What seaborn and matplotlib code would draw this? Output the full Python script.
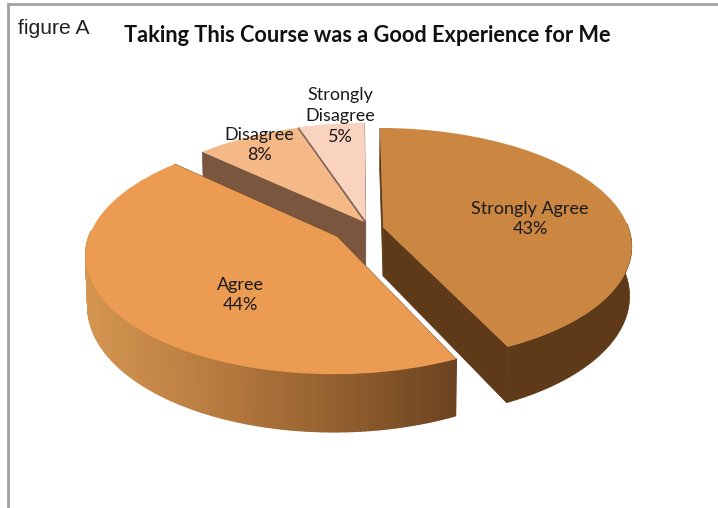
import numpy as np
import matplotlib
matplotlib.use("Agg")
import matplotlib.pyplot as plt
import seaborn as sns
from matplotlib.collections import PolyCollection
from matplotlib.transforms import Transform

# Chart data
categories = ["Strongly Agree", "Agree", "Disagree", "Strongly\nDisagree"]
percents = [43, 44, 8, 5]

# Slice styles
top_colors = ["#CB8742", "#EB9C52", "#F5B887", "#FAD3BF"]
side_colors = ["#5E3A19", "#6B4320", "#7A563F", "#7B6560"]
agree_wall = ["#D49650", "#B87C40", "#94602F", "#6B4320"]
slice_shift = [(0.107, 0.0214), (-0.08, -0.0576), (0.03, 0.07), (0.036, 0.08)]
label_xy = [(530, 219), (240, 295), (259, 145), (340, 116)]
draw_order = [3, 2, 1, 0]

# Camera for the tilted pie, in pixels
X0, Y0 = 357, 230
SX, SY, PERSP, DEPTH = 246, 115, 0.148, 48.5


def project(u, v, z=0.0):
    w = 1 + PERSP * v
    shrink = 1 - 0.008 * z
    return X0 + SX * u * shrink / w, Y0 + (-SY * v + DEPTH * z) / w


class Tilt(Transform):
    input_dims = 2
    output_dims = 2
    is_affine = False

    def transform_non_affine(self, values):
        x, y = project(values[:, 0], values[:, 1])
        return np.column_stack([x, y])


sns.set_theme(style="white")
plt.rcParams["font.family"] = ["Lato", "DejaVu Sans"]

fig = plt.figure(figsize=(7.18, 5.08), dpi=100)
ax = fig.add_axes([0, 0, 1, 1])

wedges, _ = ax.pie(percents, colors=top_colors, startangle=90, counterclock=False,
                   wedgeprops={"linewidth": 0})
ax.set_aspect("auto")
ax.set_xlim(0, 718)
ax.set_ylim(508, 0)
ax.axis("off")

z = 2
for i in draw_order:
    wedge = wedges[i]
    cx, cy = slice_shift[i]
    wedge.set_center((cx, cy))

    # flat faces of the cut
    for theta in (wedge.theta1, wedge.theta2):
        ex = cx + np.cos(np.radians(theta))
        ey = cy + np.sin(np.radians(theta))
        ax.fill(*zip(project(cx, cy), project(ex, ey), project(ex, ey, 1), project(cx, cy, 1)),
                color=side_colors[i], lw=0.5, zorder=z)

    # rim on the side facing the viewer
    angles = np.radians(np.linspace(wedge.theta1, wedge.theta2, 200))
    angles = angles[np.sin(angles) < 0.05]
    if len(angles) > 1:
        ux, uy = cx + np.cos(angles), cy + np.sin(angles)
        xt, yt = project(ux, uy)
        xb, yb = project(ux, uy, 1)
        if i == 1:
            # stepped shading, as the reference has
            ramp = sns.blend_palette(agree_wall, 256)
            pos = (xt[:-1] - xt.min()) / (xt.max() - xt.min())
            cols = [ramp[int(p * 255)] for p in pos]
            quads = [[(xt[k], yt[k]), (xt[k + 1], yt[k + 1]), (xb[k + 1], yb[k + 1]), (xb[k], yb[k])]
                     for k in range(len(angles) - 1)]
            ax.add_collection(PolyCollection(quads, facecolors=cols, edgecolors="face",
                                             linewidths=1.2, zorder=z))
        else:
            ax.fill(np.r_[xt, xb[::-1]], np.r_[yt, yb[::-1]], color=side_colors[i], lw=0.5, zorder=z)

    wedge.set_transform(Tilt() + ax.transData)
    wedge.set_zorder(z + 0.5)
    z += 1

for name, pct, (lx, ly) in zip(categories, percents, label_xy):
    ax.text(lx, ly, f"{name}\n{pct}%", ha="center", va="center", fontsize=13,
            color="#1a1a1a", linespacing=1.38, zorder=20)

ax.text(367, 36, "Taking This Course was a Good Experience for Me", ha="center", va="center",
        fontsize=15.7, fontweight="bold", color="#111111")
ax.text(18, 28, "figure A", ha="left", va="center", fontsize=15.2,
        family=["Liberation Sans"], color="#222222")

# frame of the pasted picture
ax.plot([8, 8, 718], [508, 4, 4], color="#A0A0A0", lw=2, solid_joinstyle="miter", zorder=1)

fig.savefig("out.png", dpi=100)
